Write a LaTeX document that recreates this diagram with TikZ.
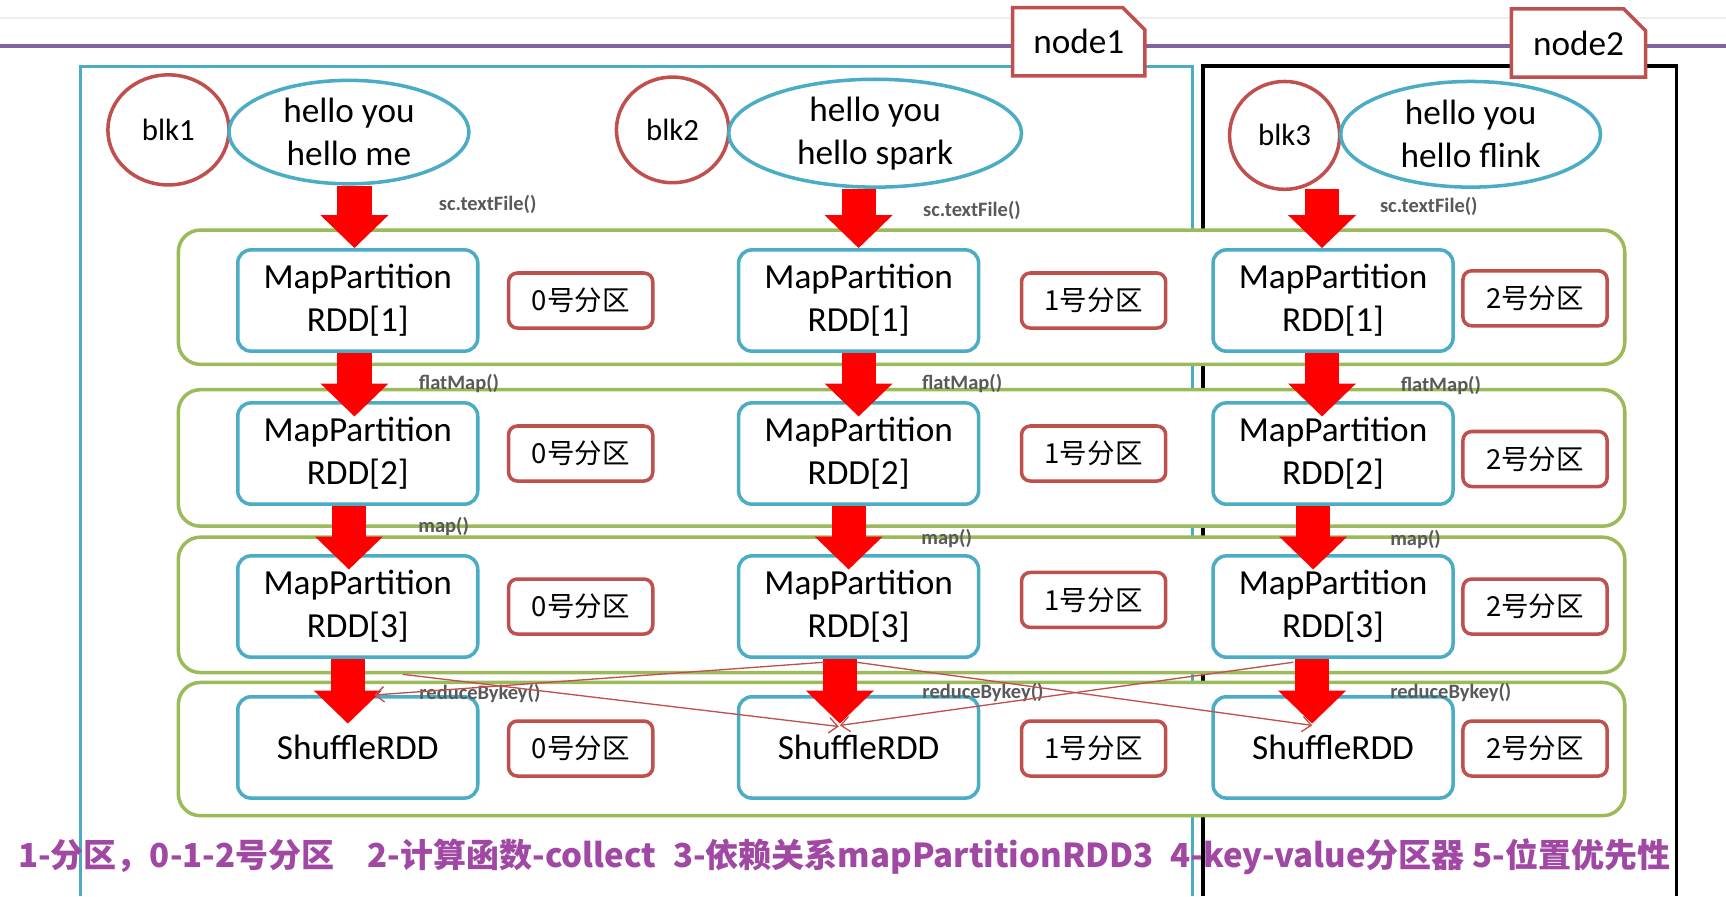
\documentclass[tikz,border=0pt]{standalone}
\usepackage{fontspec}
\setmainfont{Carlito}
\newfontfamily\cjk{Noto Sans CJK SC}
\usetikzlibrary{arrows.meta,positioning,shapes.geometric,shapes.misc,calc}
\definecolor{rddblue}{HTML}{4BACC6}
\definecolor{partred}{HTML}{C0504D}
\definecolor{stagegreen}{HTML}{9BBB59}
\definecolor{hostpurple}{HTML}{8064A2}
\definecolor{notepurple}{RGB}{160,72,164}
\definecolor{opgray}{HTML}{595959}
\tikzset{
  rdd/.style={draw=rddblue, line width=1.6pt, rounded corners=6pt, fill=white, align=center, minimum width=109pt, minimum height=46pt, inner sep=0pt, font=\fontsize{16}{19.5}\selectfont},
  part/.style={draw=partred, line width=1.6pt, rounded corners=4pt, fill=white, minimum width=65.5pt, minimum height=25pt, inner sep=0pt, font=\cjk\fontsize{12.5}{14}\selectfont},
  stage/.style={draw=stagegreen, line width=1.6pt, rounded corners=10pt, fill=white, minimum width=657pt, inner sep=0pt},
  blk/.style={ellipse, draw=partred, line width=1.6pt, fill=white, inner sep=0pt, font=\fontsize{14}{16}\selectfont},
  words/.style={ellipse, draw=rddblue, line width=1.6pt, fill=white, inner sep=0pt, align=center, font=\fontsize{16}{19.5}\selectfont},
  host/.style={chamfered rectangle, chamfered rectangle corners=north east, chamfered rectangle xsep=5pt, chamfered rectangle ysep=5pt, draw=partred, line width=1.6pt, fill=white, minimum width=60pt, minimum height=31pt, inner sep=0pt, font=\fontsize{16}{19}\selectfont},
  op/.style={font=\bfseries\fontsize{9.3}{11}\selectfont, text=opgray, inner sep=0pt},
  fat/.style={draw=red, line width=15.5pt, -{Triangle[length=15pt, width=30pt]}},
  shuffle/.style={draw=partred, line width=0.6pt, -{Straight Barb[length=4pt, width=7pt]}}
}

\begin{document}
\begin{tikzpicture}[x=0.5pt, y=-0.5pt]
  \useasboundingbox[fill=white] (0,0) rectangle (1568,814);
  % cluster lines
  \draw[black!7, line width=1pt] (0,16) -- (1568,16);
  \draw[hostpurple, line width=1.8pt] (0,42) -- (1568,42);
  \draw[rddblue, line width=1.4pt] (73,814) -- (73,60) -- (1083,60) -- (1083,814);
  \draw[black, line width=1.8pt] (1093,814) -- (1093,60) -- (1523,60) -- (1523,814);
  \node[host] (node1) at (980,38) {node1};
  \node[host, minimum width=61pt] (node2) at (1434,39) {node2};

  % stages
  \node[stage, minimum height=61pt] (st1) at (819,270) {};
  \node[stage, minimum height=62pt] (st2) at (819,416) {};
  \node[stage, minimum height=61.5pt] (st3) at (819,549.5) {};
  \node[stage, minimum height=60.5pt] (st4) at (819,680.5) {};

  % input blocks
  \node[blk, minimum width=55pt, minimum height=50pt] (blk1) at (153,118) {blk1};
  \node[words, minimum width=109pt, minimum height=47pt] (txt1) at (317,120) {hello you\\hello me};
  \node[blk, minimum width=51pt, minimum height=48pt] (blk2) at (611,118) {blk2};
  \node[words, minimum width=133pt, minimum height=49pt] (txt2) at (795,121) {hello you\\hello spark};
  \node[blk, minimum width=50pt, minimum height=49pt] (blk3) at (1167,123) {blk3};
  \node[words, minimum width=118pt, minimum height=48pt] (txt3) at (1336,122) {hello you\\hello flink};

  % rdd boxes
  \node[rdd] (m11) at (325,273) {MapPartition\\RDD[1]};
  \node[rdd] (m12) at (780,273) {MapPartition\\RDD[1]};
  \node[rdd] (m13) at (1211,273) {MapPartition\\RDD[1]};
  \node[rdd] (m21) at (325,412) {MapPartition\\RDD[2]};
  \node[rdd] (m22) at (780,412) {MapPartition\\RDD[2]};
  \node[rdd] (m23) at (1211,412) {MapPartition\\RDD[2]};
  \node[rdd] (m31) at (325,551) {MapPartition\\RDD[3]};
  \node[rdd] (m32) at (780,551) {MapPartition\\RDD[3]};
  \node[rdd] (m33) at (1211,551) {MapPartition\\RDD[3]};
  \node[rdd] (s1) at (325,679) {ShuffleRDD};
  \node[rdd] (s2) at (780,679) {ShuffleRDD};
  \node[rdd] (s3) at (1211,679) {ShuffleRDD};

  % partitions
  \node[part] (p11) at (527.5,273) {0号分区};
  \node[part] (p12) at (993.5,273) {1号分区};
  \node[part] (p13) at (1394.5,271) {2号分区};
  \node[part] (p21) at (527.5,412) {0号分区};
  \node[part] (p22) at (993.5,412) {1号分区};
  \node[part] (p23) at (1394.5,417) {2号分区};
  \node[part] (p31) at (527.5,551) {0号分区};
  \node[part] (p32) at (993.5,545) {1号分区};
  \node[part] (p33) at (1394.5,551) {2号分区};
  \node[part] (p41) at (527.5,680) {0号分区};
  \node[part] (p42) at (993.5,680) {1号分区};
  \node[part] (p43) at (1394.5,680) {2号分区};

  % big arrows
  \draw[fat] ([xshift=-1.5pt]m11.north |- txt1.south) -- ([xshift=-1.5pt]m11.north);
  \draw[fat] (m12.north |- txt2.south) -- (m12.north);
  \draw[fat] ([xshift=-5pt]m13.north |- txt3.south) -- ([xshift=-5pt]m13.north);
  \draw[fat] ([xshift=-1.5pt]m11.south) -- ([xshift=-1.5pt, yshift=-7pt]m21.north);
  \draw[fat] (m12.south) -- ([yshift=-7pt]m22.north);
  \draw[fat] ([xshift=-5pt]m13.south) -- ([xshift=-5pt, yshift=-7pt]m23.north);
  \draw[fat] ([xshift=-4pt]m21.south) -- ([xshift=-4pt, yshift=-7pt]m31.north);
  \draw[fat] ([xshift=-4.5pt]m22.south) -- ([xshift=-4.5pt, yshift=-7pt]m32.north);
  \draw[fat] ([xshift=-9pt]m23.south) -- ([xshift=-9pt, yshift=-7pt]m33.north);
  \draw[fat] ([xshift=-4.5pt]m31.south) -- ([xshift=-4.5pt, yshift=-13pt]s1.north);
  \draw[fat] ([xshift=-8.5pt]m32.south) -- ([xshift=-8.5pt, yshift=-13pt]s2.north);
  \draw[fat] ([xshift=-9.5pt]m33.south) -- ([xshift=-9.5pt, yshift=-13pt]s3.north);

  % operator labels
  \node[op] (tf1) at (443,186) {sc.textFile()};
  \node[op] (tf2) at (883,191) {sc.textFile()};
  \node[op] (tf3) at (1298,188) {sc.textFile()};
  \node[op] (fm1) at (417,348) {flatMap()};
  \node[op] (fm2) at (874,348) {flatMap()};
  \node[op] (fm3) at (1309,350) {flatMap()};
  \node[op] (mp1) at (403,478) {map()};
  \node[op] (mp2) at (860,489) {map()};
  \node[op] (mp3) at (1286,490) {map()};
  \node[op] (rk1) at (436,630) {reduceBykey()};
  \node[op] (rk2) at (893,629) {reduceBykey()};
  \node[op] (rk3) at (1318,629) {reduceBykey()};

  % shuffle dependencies
  \draw[shuffle] ($(m31.south)+(41,14)$) -- ($(s2.center)+(-18,-19)$);
  \draw[shuffle] ($(m32.south)+(-31,3)$) -- ($(s1.north)+(15,0)$);
  \draw[shuffle] ($(m32.south)+(-2,3)$) -- ($(s3.center)+(-19,-20)$);
  \draw[shuffle] ($(m33.south)+(-36,3)$) -- ($(s2.center)+(-17,-20)$);

  % summary
  \node[font=\cjk\bfseries\fontsize{15}{18}\selectfont, text=notepurple, inner sep=0pt] (note) at (767,778)
    {1-分区，0-1-2号分区\quad 2-计算函数-collect\enspace 3-依赖关系mapPartitionRDD3\enspace 4-key-value分区器 5-位置优先性};
\end{tikzpicture}
\end{document}
